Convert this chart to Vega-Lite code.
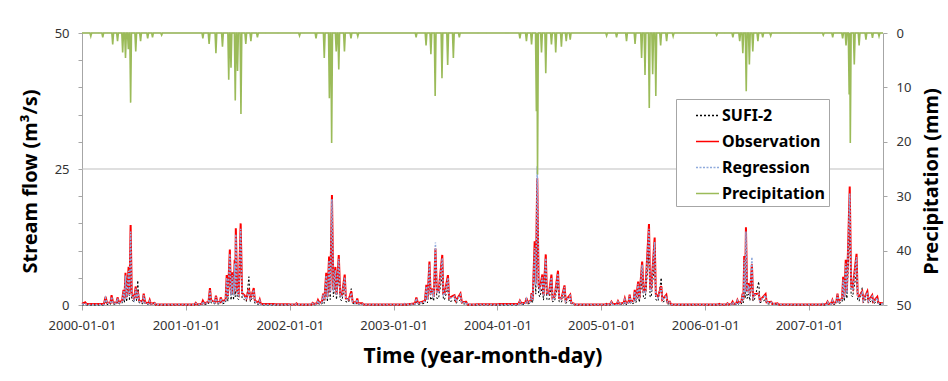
{
  "$schema": "https://vega.github.io/schema/vega-lite/v6.json",
  "width": 801,
  "height": 272,
  "autosize": {"type": "none"},
  "padding": {"left": 82, "top": 33, "right": 65, "bottom": 76},
  "background": "white",
  "config": {
    "font": "Noto Sans",
    "view": {"stroke": null},
    "axis": {"labelFont": "Noto Sans", "titleFont": "Noto Sans", "labelFontSize": 13, "labelColor": "#333333", "titleColor": "#000000", "titleFontWeight": "bold", "domainColor": "#A6A6A6", "tickColor": "#A6A6A6", "grid": false},
    "legend": {"orient": "none", "legendX": 594, "legendY": 66, "title": null, "labelFont": "Noto Sans", "labelFontSize": 16, "labelFontWeight": "bold", "labelColor": "#000000", "symbolType": "stroke", "symbolSize": 529, "symbolStrokeWidth": 1.3, "rowPadding": 5, "padding": 4, "symbolOffset": 15, "labelOffset": 2, "strokeColor": "#A6A6A6", "fillColor": "white"}
  },
  "layer": [
    {
      "data": {"values": [{"g": 25}, {"g": 50}]},
      "mark": {"type": "rule", "color": "#BFBFBF", "strokeWidth": 1},
      "encoding": {"y": {"field": "g", "type": "quantitative", "scale": {"domain": [0, 50]}, "axis": null}}
    },
    {
      "data": {"values": [
        {"d":"2000-01-01","o":0.2,"r":0.1,"s":0},{"d":"2000-01-12","o":0.5,"r":0.3,"s":0.1},{"d":"2000-01-17","o":0.2,"r":0.1,"s":0},{"d":"2000-03-18","o":0.2,"r":0.1,"s":0},{"d":"2000-03-24","o":1.5,"r":1.3,"s":0.6},{"d":"2000-03-29","o":0.4,"r":0.3,"s":0.1},{"d":"2000-04-10","o":0.4,"r":0.3,"s":0.1},{"d":"2000-04-14","o":1.8,"r":1.5,"s":0.8},{"d":"2000-04-19","o":0.5,"r":0.4,"s":0.2},{"d":"2000-05-01","o":0.4,"r":0.3,"s":0.1},{"d":"2000-05-05","o":1.4,"r":1.2,"s":0.6},{"d":"2000-05-10","o":0.5,"r":0.4,"s":0.2},{"d":"2000-05-21","o":0.8,"r":0.6,"s":0.3},{"d":"2000-05-26","o":2.8,"r":2.5,"s":1.4},{"d":"2000-05-29","o":1.0,"r":0.8,"s":0.4},{"d":"2000-06-02","o":5.9,"r":5.4,"s":3.0},{"d":"2000-06-06","o":1.5,"r":1.3,"s":0.6},{"d":"2000-06-13","o":7.0,"r":6.3,"s":4.0},{"d":"2000-06-16","o":2.0,"r":1.8,"s":0.8},{"d":"2000-06-20","o":14.7,"r":13.5,"s":9.0},{"d":"2000-06-24","o":2.2,"r":2.0,"s":1.0},{"d":"2000-07-02","o":1.0,"r":0.9,"s":0.5},{"d":"2000-07-08","o":3.4,"r":3.0,"s":2.4},{"d":"2000-07-11","o":1.3,"r":1.1,"s":0.7},{"d":"2000-07-15","o":2.6,"r":2.4,"s":4.5},{"d":"2000-07-20","o":0.8,"r":0.7,"s":0.4},{"d":"2000-08-01","o":0.6,"r":0.5,"s":0.2},{"d":"2000-08-05","o":2.1,"r":1.8,"s":1.0},{"d":"2000-08-10","o":0.5,"r":0.4,"s":0.2},{"d":"2000-08-22","o":0.3,"r":0.2,"s":0.1},{"d":"2000-08-26","o":0.9,"r":0.7,"s":0.3},{"d":"2000-08-30","o":0.2,"r":0.2,"s":0.1},{"d":"2000-09-12","o":0.4,"r":0.3,"s":0.1},{"d":"2000-09-16","o":0.1,"r":0.1,"s":0},
        {"d":"2001-01-31","o":0.1,"r":0.1,"s":0},{"d":"2001-02-04","o":0.4,"r":0.3,"s":0.1},{"d":"2001-02-09","o":0.1,"r":0.1,"s":0},{"d":"2001-02-25","o":0.2,"r":0.1,"s":0},{"d":"2001-03-01","o":0.8,"r":0.6,"s":0.3},{"d":"2001-03-06","o":0.3,"r":0.2,"s":0.1},{"d":"2001-03-21","o":0.6,"r":0.5,"s":0.2},{"d":"2001-03-26","o":3.1,"r":2.7,"s":1.5},{"d":"2001-03-30","o":0.9,"r":0.8,"s":0.4},{"d":"2001-04-12","o":0.5,"r":0.4,"s":0.2},{"d":"2001-04-16","o":1.7,"r":1.5,"s":0.8},{"d":"2001-04-21","o":0.6,"r":0.5,"s":0.2},{"d":"2001-04-30","o":0.5,"r":0.4,"s":0.2},{"d":"2001-05-03","o":1.4,"r":1.2,"s":0.6},{"d":"2001-05-08","o":0.6,"r":0.5,"s":0.2},{"d":"2001-05-20","o":1.0,"r":0.8,"s":0.4},{"d":"2001-05-24","o":5.5,"r":5.0,"s":3.0},{"d":"2001-05-28","o":1.6,"r":1.4,"s":0.7},{"d":"2001-06-04","o":10.2,"r":9.4,"s":6.0},{"d":"2001-06-08","o":2.0,"r":1.8,"s":0.9},{"d":"2001-06-13","o":6.0,"r":5.5,"s":3.5},{"d":"2001-06-17","o":2.0,"r":1.8,"s":0.9},{"d":"2001-06-21","o":8.3,"r":7.6,"s":5.0},{"d":"2001-06-23","o":3.0,"r":2.7,"s":1.5},{"d":"2001-06-25","o":14.1,"r":13.0,"s":9.0},{"d":"2001-06-30","o":2.5,"r":2.2,"s":1.2},{"d":"2001-07-05","o":2.0,"r":1.8,"s":1.0},{"d":"2001-07-12","o":15.0,"r":14.0,"s":10.0},{"d":"2001-07-17","o":2.2,"r":2.0,"s":1.2},{"d":"2001-07-25","o":1.8,"r":1.6,"s":1.0},{"d":"2001-08-01","o":1.2,"r":1.0,"s":0.6},{"d":"2001-08-10","o":3.0,"r":2.8,"s":5.2},{"d":"2001-08-15","o":1.0,"r":0.9,"s":0.6},{"d":"2001-08-27","o":3.1,"r":2.8,"s":1.8},{"d":"2001-08-31","o":0.8,"r":0.7,"s":0.3},{"d":"2001-09-13","o":0.4,"r":0.3,"s":0.1},{"d":"2001-09-17","o":1.0,"r":0.8,"s":0.4},{"d":"2001-09-21","o":0.2,"r":0.1,"s":0},
        {"d":"2002-01-20","o":0.1,"r":0.1,"s":0},{"d":"2002-01-24","o":0.3,"r":0.2,"s":0.1},{"d":"2002-01-28","o":0.1,"r":0.1,"s":0},{"d":"2002-03-18","o":0.1,"r":0.1,"s":0},{"d":"2002-03-22","o":0.4,"r":0.3,"s":0.1},{"d":"2002-03-27","o":0.2,"r":0.1,"s":0},{"d":"2002-04-06","o":0.3,"r":0.2,"s":0.1},{"d":"2002-04-10","o":0.9,"r":0.8,"s":0.3},{"d":"2002-04-15","o":0.4,"r":0.3,"s":0.1},{"d":"2002-04-24","o":0.6,"r":0.5,"s":0.2},{"d":"2002-04-28","o":2.1,"r":1.9,"s":1.0},{"d":"2002-05-02","o":0.8,"r":0.7,"s":0.3},{"d":"2002-05-09","o":5.9,"r":5.4,"s":3.2},{"d":"2002-05-13","o":1.5,"r":1.3,"s":0.6},{"d":"2002-05-19","o":8.9,"r":8.2,"s":5.0},{"d":"2002-05-23","o":2.5,"r":2.2,"s":1.0},{"d":"2002-05-29","o":20.2,"r":19.5,"s":13.0},{"d":"2002-06-03","o":2.8,"r":2.5,"s":1.5},{"d":"2002-06-10","o":7.0,"r":6.4,"s":4.0},{"d":"2002-06-14","o":2.0,"r":1.8,"s":1.0},{"d":"2002-06-22","o":9.2,"r":8.5,"s":5.5},{"d":"2002-06-27","o":2.0,"r":1.8,"s":1.0},{"d":"2002-07-03","o":1.8,"r":1.6,"s":0.8},{"d":"2002-07-13","o":5.6,"r":5.1,"s":3.5},{"d":"2002-07-17","o":1.2,"r":1.1,"s":0.6},{"d":"2002-07-27","o":1.0,"r":0.9,"s":0.5},{"d":"2002-08-05","o":2.5,"r":2.2,"s":3.0},{"d":"2002-08-10","o":0.6,"r":0.5,"s":0.3},{"d":"2002-08-22","o":0.4,"r":0.3,"s":0.1},{"d":"2002-08-26","o":1.2,"r":1.0,"s":0.5},{"d":"2002-08-30","o":0.3,"r":0.2,"s":0.1},{"d":"2002-09-13","o":0.3,"r":0.2,"s":0.1},{"d":"2002-09-18","o":0.1,"r":0.1,"s":0},
        {"d":"2003-02-05","o":0.1,"r":0.1,"s":0},{"d":"2003-02-09","o":0.2,"r":0.2,"s":0},{"d":"2003-02-14","o":0.1,"r":0.1,"s":0},{"d":"2003-03-17","o":0.3,"r":0.2,"s":0.1},{"d":"2003-03-22","o":1.4,"r":1.2,"s":0.6},{"d":"2003-03-27","o":0.4,"r":0.3,"s":0.1},{"d":"2003-04-07","o":0.5,"r":0.4,"s":0.2},{"d":"2003-04-21","o":0.8,"r":0.7,"s":0.3},{"d":"2003-04-26","o":3.7,"r":3.4,"s":2.0},{"d":"2003-04-30","o":1.0,"r":0.9,"s":0.4},{"d":"2003-05-07","o":8.0,"r":7.5,"s":4.5},{"d":"2003-05-11","o":2.0,"r":1.8,"s":0.9},{"d":"2003-05-18","o":3.0,"r":2.8,"s":1.5},{"d":"2003-05-22","o":1.5,"r":1.4,"s":0.7},{"d":"2003-05-28","o":10.4,"r":11.5,"s":7.0},{"d":"2003-06-02","o":2.5,"r":2.3,"s":1.2},{"d":"2003-06-08","o":2.5,"r":2.3,"s":1.2},{"d":"2003-06-21","o":9.2,"r":8.6,"s":5.5},{"d":"2003-06-25","o":2.0,"r":1.8,"s":1.0},{"d":"2003-06-29","o":2.0,"r":1.8,"s":1.0},{"d":"2003-07-11","o":5.5,"r":5.0,"s":3.2},{"d":"2003-07-15","o":1.3,"r":1.2,"s":0.6},{"d":"2003-07-22","o":1.5,"r":1.3,"s":0.7},{"d":"2003-08-03","o":1.8,"r":1.6,"s":0.9},{"d":"2003-08-08","o":0.8,"r":0.7,"s":0.3},{"d":"2003-08-24","o":2.1,"r":1.9,"s":1.0},{"d":"2003-08-29","o":0.5,"r":0.4,"s":0.2},{"d":"2003-09-13","o":0.6,"r":0.5,"s":0.2},{"d":"2003-09-18","o":0.1,"r":0.1,"s":0},
        {"d":"2004-03-15","o":0.2,"r":0.1,"s":0},{"d":"2004-03-20","o":0.8,"r":0.7,"s":0.3},{"d":"2004-03-25","o":0.3,"r":0.2,"s":0.1},{"d":"2004-04-08","o":0.4,"r":0.3,"s":0.1},{"d":"2004-04-12","o":1.3,"r":1.1,"s":0.5},{"d":"2004-04-16","o":0.5,"r":0.4,"s":0.2},{"d":"2004-04-27","o":0.8,"r":0.7,"s":0.3},{"d":"2004-04-30","o":2.2,"r":2.0,"s":1.0},{"d":"2004-05-04","o":1.0,"r":0.9,"s":0.4},{"d":"2004-05-11","o":11.7,"r":10.5,"s":7.0},{"d":"2004-05-15","o":4.0,"r":3.6,"s":2.0},{"d":"2004-05-20","o":23.3,"r":25.5,"s":15.0},{"d":"2004-05-25","o":3.5,"r":3.2,"s":2.0},{"d":"2004-05-29","o":3.0,"r":2.7,"s":1.5},{"d":"2004-06-07","o":5.6,"r":5.1,"s":3.2},{"d":"2004-06-11","o":1.8,"r":1.6,"s":0.9},{"d":"2004-06-19","o":9.3,"r":8.6,"s":5.5},{"d":"2004-06-23","o":2.2,"r":2.0,"s":1.0},{"d":"2004-06-30","o":2.0,"r":1.8,"s":0.9},{"d":"2004-07-09","o":5.6,"r":5.1,"s":3.4},{"d":"2004-07-13","o":1.2,"r":1.1,"s":0.6},{"d":"2004-07-20","o":1.5,"r":1.3,"s":0.7},{"d":"2004-08-01","o":6.3,"r":5.8,"s":3.8},{"d":"2004-08-05","o":1.3,"r":1.2,"s":0.6},{"d":"2004-08-13","o":1.2,"r":1.0,"s":0.5},{"d":"2004-08-24","o":3.6,"r":3.3,"s":2.2},{"d":"2004-08-28","o":0.8,"r":0.7,"s":0.3},{"d":"2004-09-13","o":1.9,"r":1.7,"s":0.9},{"d":"2004-09-17","o":0.4,"r":0.3,"s":0.1},{"d":"2004-09-25","o":0.3,"r":0.2,"s":0.1},{"d":"2004-09-30","o":0.1,"r":0.1,"s":0},
        {"d":"2005-01-14","o":0.1,"r":0.1,"s":0},{"d":"2005-01-18","o":0.2,"r":0.2,"s":0},{"d":"2005-01-22","o":0.1,"r":0.1,"s":0},{"d":"2005-02-01","o":0.2,"r":0.1,"s":0},{"d":"2005-02-05","o":0.6,"r":0.5,"s":0.2},{"d":"2005-02-10","o":0.2,"r":0.1,"s":0.1},{"d":"2005-02-24","o":0.2,"r":0.1,"s":0.1},{"d":"2005-02-28","o":0.7,"r":0.6,"s":0.3},{"d":"2005-03-05","o":0.2,"r":0.2,"s":0.1},{"d":"2005-03-20","o":0.4,"r":0.3,"s":0.1},{"d":"2005-03-24","o":1.2,"r":1.0,"s":0.5},{"d":"2005-03-28","o":0.4,"r":0.3,"s":0.1},{"d":"2005-04-06","o":0.5,"r":0.4,"s":0.2},{"d":"2005-04-10","o":1.9,"r":1.7,"s":0.8},{"d":"2005-04-14","o":0.6,"r":0.5,"s":0.2},{"d":"2005-04-24","o":0.8,"r":0.7,"s":0.3},{"d":"2005-04-28","o":2.8,"r":2.5,"s":1.3},{"d":"2005-05-02","o":0.9,"r":0.8,"s":0.4},{"d":"2005-05-10","o":4.3,"r":3.9,"s":2.2},{"d":"2005-05-14","o":1.2,"r":1.1,"s":0.5},{"d":"2005-05-24","o":8.0,"r":7.4,"s":4.5},{"d":"2005-05-29","o":2.5,"r":2.3,"s":1.2},{"d":"2005-06-04","o":2.5,"r":2.3,"s":1.2},{"d":"2005-06-17","o":14.9,"r":14.0,"s":9.5},{"d":"2005-06-21","o":3.0,"r":2.7,"s":1.5},{"d":"2005-06-25","o":3.0,"r":2.7,"s":1.5},{"d":"2005-07-07","o":12.4,"r":11.6,"s":8.0},{"d":"2005-07-11","o":2.0,"r":1.8,"s":1.0},{"d":"2005-07-19","o":1.5,"r":1.3,"s":0.7},{"d":"2005-07-30","o":3.5,"r":3.2,"s":5.0},{"d":"2005-08-03","o":1.0,"r":0.9,"s":0.5},{"d":"2005-08-17","o":1.9,"r":1.7,"s":0.9},{"d":"2005-08-21","o":0.5,"r":0.4,"s":0.2},{"d":"2005-08-29","o":0.6,"r":0.5,"s":0.2},{"d":"2005-09-03","o":0.1,"r":0.1,"s":0},
        {"d":"2006-02-15","o":0.1,"r":0.1,"s":0},{"d":"2006-02-19","o":0.2,"r":0.2,"s":0},{"d":"2006-02-23","o":0.1,"r":0.1,"s":0},{"d":"2006-03-16","o":0.1,"r":0.1,"s":0},{"d":"2006-03-20","o":0.3,"r":0.2,"s":0.1},{"d":"2006-03-25","o":0.1,"r":0.1,"s":0},{"d":"2006-04-03","o":0.2,"r":0.2,"s":0.1},{"d":"2006-04-07","o":0.6,"r":0.5,"s":0.2},{"d":"2006-04-11","o":0.2,"r":0.2,"s":0.1},{"d":"2006-04-20","o":0.3,"r":0.2,"s":0.1},{"d":"2006-04-24","o":0.9,"r":0.8,"s":0.4},{"d":"2006-04-28","o":0.4,"r":0.3,"s":0.1},{"d":"2006-05-08","o":0.6,"r":0.5,"s":0.2},{"d":"2006-05-12","o":2.1,"r":1.9,"s":1.0},{"d":"2006-05-15","o":1.0,"r":0.9,"s":0.4},{"d":"2006-05-18","o":9.0,"r":8.3,"s":5.5},{"d":"2006-05-21","o":2.5,"r":2.3,"s":1.2},{"d":"2006-05-24","o":14.3,"r":13.5,"s":9.0},{"d":"2006-05-28","o":2.5,"r":2.3,"s":1.2},{"d":"2006-06-02","o":4.0,"r":3.6,"s":2.0},{"d":"2006-06-07","o":1.8,"r":1.6,"s":0.8},{"d":"2006-06-14","o":7.5,"r":8.8,"s":5.0},{"d":"2006-06-18","o":1.5,"r":1.4,"s":0.7},{"d":"2006-06-23","o":2.0,"r":1.8,"s":1.0},{"d":"2006-07-08","o":2.1,"r":2.0,"s":4.3},{"d":"2006-07-12","o":0.8,"r":0.7,"s":0.4},{"d":"2006-08-01","o":2.0,"r":1.8,"s":1.0},{"d":"2006-08-05","o":0.5,"r":0.4,"s":0.2},{"d":"2006-08-21","o":0.6,"r":0.5,"s":0.2},{"d":"2006-08-25","o":0.2,"r":0.2,"s":0.1},{"d":"2006-09-12","o":0.3,"r":0.2,"s":0.1},{"d":"2006-09-16","o":0.1,"r":0.1,"s":0},
        {"d":"2007-02-13","o":0.1,"r":0.1,"s":0},{"d":"2007-02-17","o":0.2,"r":0.2,"s":0},{"d":"2007-02-21","o":0.1,"r":0.1,"s":0},{"d":"2007-03-03","o":0.2,"r":0.1,"s":0},{"d":"2007-03-07","o":0.6,"r":0.5,"s":0.2},{"d":"2007-03-11","o":0.2,"r":0.2,"s":0.1},{"d":"2007-03-20","o":0.3,"r":0.2,"s":0.1},{"d":"2007-03-24","o":0.9,"r":0.8,"s":0.4},{"d":"2007-03-28","o":0.3,"r":0.3,"s":0.1},{"d":"2007-04-07","o":0.6,"r":0.5,"s":0.2},{"d":"2007-04-11","o":2.1,"r":1.9,"s":1.0},{"d":"2007-04-15","o":0.7,"r":0.6,"s":0.3},{"d":"2007-04-27","o":1.2,"r":1.1,"s":0.5},{"d":"2007-05-01","o":5.2,"r":4.7,"s":2.8},{"d":"2007-05-05","o":1.5,"r":1.3,"s":0.7},{"d":"2007-05-10","o":8.3,"r":7.6,"s":5.0},{"d":"2007-05-14","o":2.5,"r":2.2,"s":1.2},{"d":"2007-05-24","o":21.8,"r":20.5,"s":14.0},{"d":"2007-05-29","o":3.5,"r":3.2,"s":1.8},{"d":"2007-06-03","o":3.0,"r":2.7,"s":1.5},{"d":"2007-06-17","o":9.4,"r":8.8,"s":6.0},{"d":"2007-06-21","o":1.8,"r":1.6,"s":0.9},{"d":"2007-06-26","o":1.5,"r":1.3,"s":0.7},{"d":"2007-07-07","o":2.5,"r":2.3,"s":3.2},{"d":"2007-07-11","o":0.9,"r":0.8,"s":0.4},{"d":"2007-07-25","o":2.5,"r":2.3,"s":1.4},{"d":"2007-07-29","o":0.8,"r":0.7,"s":0.3},{"d":"2007-08-11","o":1.8,"r":1.6,"s":0.9},{"d":"2007-08-15","o":0.6,"r":0.5,"s":0.2},{"d":"2007-08-29","o":1.5,"r":1.3,"s":0.7},{"d":"2007-09-02","o":0.4,"r":0.3,"s":0.1},{"d":"2007-09-18","o":0.3,"r":0.2,"s":0.1}
      ]},
      "transform": [{"fold": ["o", "r", "s"], "as": ["k", "v"]}],
      "encoding": {
        "x": {"field": "d", "type": "temporal", "scale": {"type": "utc", "domain": [{"year": 2000, "month": 1, "date": 1, "utc": true}, {"year": 2007, "month": 9, "date": 18, "utc": true}]},
          "axis": {"title": "Time (year-month-day)", "format": "%Y-%m-%d", "values": [{"year": 2000, "month": 1, "date": 1, "utc": true}, {"year": 2001, "month": 1, "date": 1, "utc": true}, {"year": 2002, "month": 1, "date": 1, "utc": true}, {"year": 2003, "month": 1, "date": 1, "utc": true}, {"year": 2004, "month": 1, "date": 1, "utc": true}, {"year": 2005, "month": 1, "date": 1, "utc": true}, {"year": 2006, "month": 1, "date": 1, "utc": true}, {"year": 2007, "month": 1, "date": 1, "utc": true}], "tickSize": 5, "labelPadding": 9, "labelFlush": false, "labelOverlap": false, "titleFontSize": 21, "titleY": 51, "titleBaseline": "middle"}},
        "y": {"field": "v", "type": "quantitative", "scale": {"domain": [0, 50]},
          "axis": {"title": "Stream flow (m³/s)", "values": [0, 5, 10, 15, 20, 25, 30, 35, 40, 45, 50], "labelExpr": "datum.value % 25 == 0 ? datum.label : ''", "tickSize": 4, "labelPadding": 9, "titleFontSize": 20, "titleAngle": 270, "titleX": -52, "titleY": 148, "titleBaseline": "middle"}},
        "color": {"field": "k", "type": "nominal", "scale": {"domain": ["s", "o", "r", "p"], "range": ["#000000", "#FF0000", "#8FAADC", "#9BBB59"]},
          "legend": {"labelExpr": "datum.label == 's' ? 'SUFI-2' : datum.label == 'o' ? 'Observation' : datum.label == 'r' ? 'Regression' : 'Precipitation'"}},
        "strokeDash": {"field": "k", "type": "nominal", "scale": {"domain": ["s", "o", "r", "p"], "range": [[2, 2], [1, 0], [2, 1.5], [1, 0]]},
          "legend": {"labelExpr": "datum.label == 's' ? 'SUFI-2' : datum.label == 'o' ? 'Observation' : datum.label == 'r' ? 'Regression' : 'Precipitation'"}}
      },
      "layer": [
        {"transform": [{"filter": "datum.k == 's'"}], "mark": {"type": "line", "strokeWidth": 1}},
        {"transform": [{"filter": "datum.k == 'o'"}], "mark": {"type": "line", "strokeWidth": 2}},
        {"transform": [{"filter": "datum.k == 'r'"}], "mark": {"type": "line", "strokeWidth": 1.5}}
      ]
    },
    {
      "data": {"values": [
        {"d":"2000-01-01","p":0},{"d":"2000-01-29","p":0},{"d":"2000-02-01","p":0.6},{"d":"2000-02-04","p":0},{"d":"2000-03-11","p":0},{"d":"2000-03-14","p":0.8},{"d":"2000-03-17","p":0},{"d":"2000-04-15","p":0},{"d":"2000-04-18","p":2.1},{"d":"2000-04-21","p":0},{"d":"2000-05-02","p":0},{"d":"2000-05-05","p":1.5},{"d":"2000-05-08","p":0},{"d":"2000-05-20","p":0},{"d":"2000-05-23","p":3.6},{"d":"2000-05-26","p":0},{"d":"2000-05-30","p":0},{"d":"2000-06-02","p":4.6},{"d":"2000-06-05","p":0},{"d":"2000-06-09","p":0},{"d":"2000-06-12","p":3.0},{"d":"2000-06-15","p":0},{"d":"2000-06-17","p":0},{"d":"2000-06-20","p":12.8},{"d":"2000-06-23","p":0},{"d":"2000-07-05","p":0},{"d":"2000-07-08","p":3.4},{"d":"2000-07-11","p":0},{"d":"2000-07-22","p":0},{"d":"2000-07-25","p":1.5},{"d":"2000-07-28","p":0},{"d":"2000-08-16","p":0},{"d":"2000-08-19","p":1.0},{"d":"2000-08-22","p":0},{"d":"2000-09-02","p":0},{"d":"2000-09-05","p":0.8},{"d":"2000-09-08","p":0},{"d":"2000-10-04","p":0},{"d":"2000-10-07","p":0.4},{"d":"2000-10-10","p":0},
        {"d":"2001-02-26","p":0},{"d":"2001-03-01","p":1.0},{"d":"2001-03-04","p":0},{"d":"2001-03-20","p":0},{"d":"2001-03-23","p":2.0},{"d":"2001-03-26","p":0},{"d":"2001-04-13","p":0},{"d":"2001-04-16","p":3.7},{"d":"2001-04-19","p":0},{"d":"2001-05-06","p":0},{"d":"2001-05-09","p":2.5},{"d":"2001-05-12","p":0},{"d":"2001-05-28","p":0},{"d":"2001-05-31","p":8.6},{"d":"2001-06-03","p":0},{"d":"2001-06-05","p":0},{"d":"2001-06-08","p":6.4},{"d":"2001-06-11","p":0},{"d":"2001-06-20","p":0},{"d":"2001-06-23","p":12.4},{"d":"2001-06-26","p":0},{"d":"2001-06-28","p":0},{"d":"2001-07-01","p":7.0},{"d":"2001-07-04","p":0},{"d":"2001-07-10","p":0},{"d":"2001-07-13","p":14.9},{"d":"2001-07-16","p":0},{"d":"2001-07-27","p":0},{"d":"2001-07-30","p":2.0},{"d":"2001-08-02","p":0},{"d":"2001-08-14","p":0},{"d":"2001-08-17","p":1.5},{"d":"2001-08-20","p":0},{"d":"2001-09-06","p":0},{"d":"2001-09-09","p":0.8},{"d":"2001-09-12","p":0},
        {"d":"2002-02-01","p":0},{"d":"2002-02-04","p":0.5},{"d":"2002-02-07","p":0},{"d":"2002-03-31","p":0},{"d":"2002-04-03","p":1.0},{"d":"2002-04-06","p":0},{"d":"2002-04-29","p":0},{"d":"2002-05-02","p":4.6},{"d":"2002-05-05","p":0},{"d":"2002-05-17","p":0},{"d":"2002-05-20","p":12.0},{"d":"2002-05-23","p":0},{"d":"2002-05-25","p":0},{"d":"2002-05-28","p":20.2},{"d":"2002-05-31","p":0},{"d":"2002-06-10","p":0},{"d":"2002-06-13","p":3.4},{"d":"2002-06-16","p":0},{"d":"2002-06-19","p":0},{"d":"2002-06-22","p":6.7},{"d":"2002-06-25","p":0},{"d":"2002-07-09","p":0},{"d":"2002-07-12","p":3.4},{"d":"2002-07-15","p":0},{"d":"2002-08-01","p":0},{"d":"2002-08-04","p":1.0},{"d":"2002-08-07","p":0},{"d":"2002-08-25","p":0},{"d":"2002-08-28","p":0.6},{"d":"2002-08-31","p":0},
        {"d":"2003-03-18","p":0},{"d":"2003-03-21","p":0.8},{"d":"2003-03-24","p":0},{"d":"2003-04-22","p":0},{"d":"2003-04-25","p":2.3},{"d":"2003-04-28","p":0},{"d":"2003-05-09","p":0},{"d":"2003-05-12","p":3.9},{"d":"2003-05-15","p":0},{"d":"2003-05-24","p":0},{"d":"2003-05-27","p":11.6},{"d":"2003-05-30","p":0},{"d":"2003-06-17","p":0},{"d":"2003-06-20","p":8.3},{"d":"2003-06-23","p":0},{"d":"2003-07-07","p":0},{"d":"2003-07-10","p":5.9},{"d":"2003-07-13","p":0},{"d":"2003-07-27","p":0},{"d":"2003-07-30","p":4.6},{"d":"2003-08-02","p":0},{"d":"2003-08-17","p":0},{"d":"2003-08-20","p":0.8},{"d":"2003-08-23","p":0},
        {"d":"2004-03-17","p":0},{"d":"2004-03-20","p":1.0},{"d":"2004-03-23","p":0},{"d":"2004-04-09","p":0},{"d":"2004-04-12","p":1.5},{"d":"2004-04-15","p":0},{"d":"2004-04-27","p":0},{"d":"2004-04-30","p":2.1},{"d":"2004-05-03","p":0},{"d":"2004-05-14","p":0},{"d":"2004-05-17","p":14.4},{"d":"2004-05-19","p":0},{"d":"2004-05-21","p":26},{"d":"2004-05-24","p":0},{"d":"2004-06-01","p":0},{"d":"2004-06-04","p":3.6},{"d":"2004-06-07","p":0},{"d":"2004-06-16","p":0},{"d":"2004-06-19","p":7.4},{"d":"2004-06-22","p":0},{"d":"2004-07-06","p":0},{"d":"2004-07-09","p":2.1},{"d":"2004-07-12","p":0},{"d":"2004-07-21","p":0},{"d":"2004-07-24","p":3.6},{"d":"2004-07-27","p":0},{"d":"2004-08-10","p":0},{"d":"2004-08-13","p":2.5},{"d":"2004-08-16","p":0},{"d":"2004-08-27","p":0},{"d":"2004-08-30","p":1.5},{"d":"2004-09-02","p":0},{"d":"2004-09-10","p":0},{"d":"2004-09-13","p":1.2},{"d":"2004-09-16","p":0},
        {"d":"2005-01-16","p":0},{"d":"2005-01-19","p":0.5},{"d":"2005-01-22","p":0},{"d":"2005-02-20","p":0},{"d":"2005-02-23","p":0.8},{"d":"2005-02-26","p":0},{"d":"2005-03-27","p":0},{"d":"2005-03-30","p":1.5},{"d":"2005-04-02","p":0},{"d":"2005-04-26","p":0},{"d":"2005-04-29","p":2.0},{"d":"2005-05-02","p":0},{"d":"2005-05-19","p":0},{"d":"2005-05-22","p":4.6},{"d":"2005-05-25","p":0},{"d":"2005-05-31","p":0},{"d":"2005-06-03","p":7.7},{"d":"2005-06-06","p":0},{"d":"2005-06-15","p":0},{"d":"2005-06-18","p":13.8},{"d":"2005-06-21","p":0},{"d":"2005-06-27","p":0},{"d":"2005-06-30","p":7.6},{"d":"2005-07-03","p":0},{"d":"2005-07-08","p":0},{"d":"2005-07-11","p":11.6},{"d":"2005-07-14","p":0},{"d":"2005-07-25","p":0},{"d":"2005-07-28","p":2.3},{"d":"2005-07-31","p":0},{"d":"2005-08-15","p":0},{"d":"2005-08-18","p":1.5},{"d":"2005-08-21","p":0},{"d":"2005-09-07","p":0},{"d":"2005-09-10","p":0.6},{"d":"2005-09-13","p":0},
        {"d":"2006-02-07","p":0},{"d":"2006-02-10","p":0.4},{"d":"2006-02-13","p":0},{"d":"2006-04-05","p":0},{"d":"2006-04-08","p":0.8},{"d":"2006-04-11","p":0},{"d":"2006-04-29","p":0},{"d":"2006-05-02","p":1.5},{"d":"2006-05-05","p":0},{"d":"2006-05-10","p":0},{"d":"2006-05-13","p":3.7},{"d":"2006-05-16","p":0},{"d":"2006-05-22","p":0},{"d":"2006-05-25","p":10.7},{"d":"2006-05-28","p":0},{"d":"2006-06-02","p":0},{"d":"2006-06-05","p":5.8},{"d":"2006-06-08","p":0},{"d":"2006-06-14","p":0},{"d":"2006-06-17","p":3.4},{"d":"2006-06-20","p":0},{"d":"2006-07-02","p":0},{"d":"2006-07-05","p":1.5},{"d":"2006-07-08","p":0},{"d":"2006-07-19","p":0},{"d":"2006-07-22","p":0.8},{"d":"2006-07-25","p":0},{"d":"2006-08-16","p":0},{"d":"2006-08-19","p":0.5},{"d":"2006-08-22","p":0},
        {"d":"2007-02-17","p":0},{"d":"2007-02-20","p":0.4},{"d":"2007-02-23","p":0},{"d":"2007-03-22","p":0},{"d":"2007-03-25","p":0.8},{"d":"2007-03-28","p":0},{"d":"2007-04-26","p":0},{"d":"2007-04-29","p":1.0},{"d":"2007-05-02","p":0},{"d":"2007-05-08","p":0},{"d":"2007-05-11","p":2.3},{"d":"2007-05-14","p":0},{"d":"2007-05-19","p":0},{"d":"2007-05-22","p":11.3},{"d":"2007-05-24","p":0},{"d":"2007-05-26","p":20.2},{"d":"2007-05-29","p":0},{"d":"2007-06-06","p":0},{"d":"2007-06-09","p":5.8},{"d":"2007-06-12","p":0},{"d":"2007-06-23","p":0},{"d":"2007-06-26","p":2.3},{"d":"2007-06-29","p":0},{"d":"2007-07-17","p":0},{"d":"2007-07-20","p":1.2},{"d":"2007-07-23","p":0},{"d":"2007-08-09","p":0},{"d":"2007-08-12","p":0.9},{"d":"2007-08-15","p":0},{"d":"2007-09-01","p":0},{"d":"2007-09-04","p":0.6},{"d":"2007-09-07","p":0},{"d":"2007-09-18","p":0}
      ]},
      "transform": [{"fold": ["p"], "as": ["k", "v"]}],
      "mark": {"type": "line", "strokeWidth": 1.6},
      "encoding": {
        "x": {"field": "d", "type": "temporal", "scale": {"type": "utc"}},
        "y": {"field": "v", "type": "quantitative", "scale": {"domain": [0, 50], "reverse": true},
          "axis": {"orient": "right", "title": "Precipitation (mm)", "values": [0, 10, 20, 30, 40, 50], "tickSize": 4, "labelPadding": 9, "titleFontSize": 20, "titleAngle": 270, "titleX": 48, "titleY": 148, "titleBaseline": "middle"}},
        "color": {"field": "k", "type": "nominal"},
        "strokeDash": {"field": "k", "type": "nominal"}
      }
    }
  ],
  "resolve": {"scale": {"y": "independent"}}
}
